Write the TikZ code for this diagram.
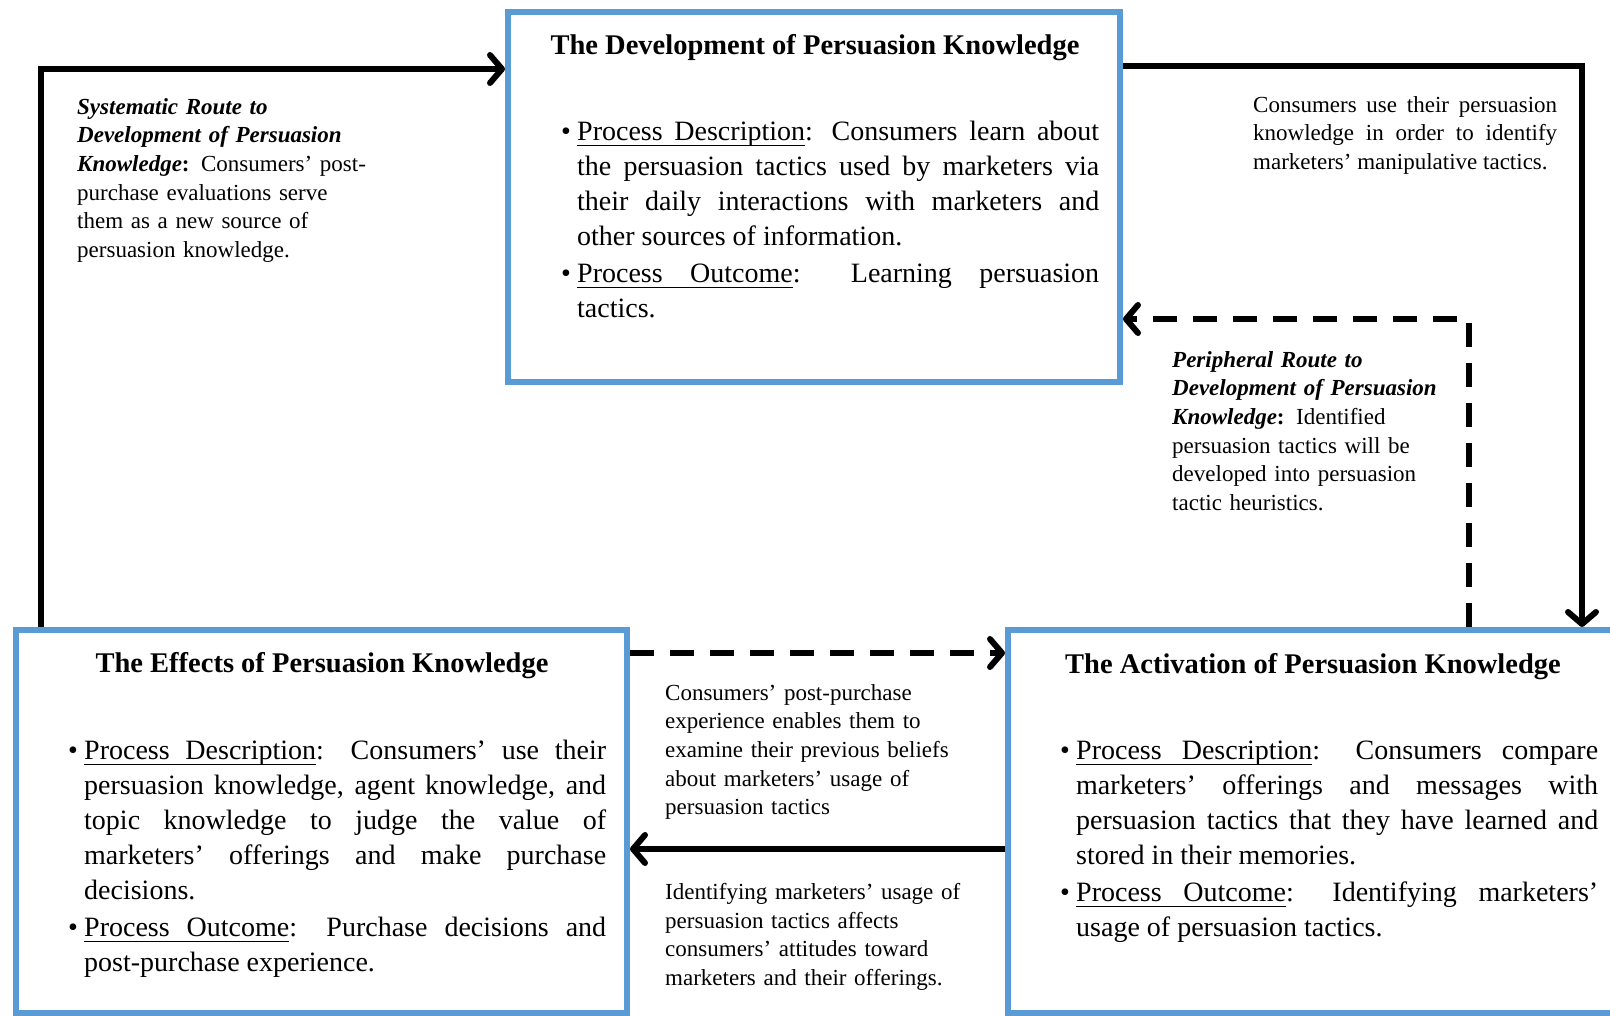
\documentclass[tikz,border=0pt]{standalone}
\usepackage{fontspec}
\setmainfont{Liberation Serif}
\usetikzlibrary{arrows.meta}

\tolerance=10000
\hyphenpenalty=10000
\newcommand{\pkitem}[1]{\par\leftskip=16pt\relax
  \noindent\llap{\makebox[16pt][l]{\textbullet}}#1\par}
\newcommand{\pkroute}[1]{\textbf{\textit{#1}}}
% underlined words, with a stretchable underlined space between them
\newcommand{\pkul}[1]{\leavevmode\setbox0\hbox{#1}\rlap{\rule[-5.6pt]{\wd0}{1.3pt}}\box0}
\newcommand{\pkulgap}{\leaders\hrule height -4.3pt depth 5.6pt
  \hskip\fontdimen2\font plus\fontdimen3\font minus\fontdimen4\font}
\newcommand{\pkhead}[1]{\pkul{Process}\pkulgap\pkul{#1}}

\begin{document}
\begin{tikzpicture}[x=1pt,y=-1pt,
  pkbox/.style={draw=BLUE, line width=6pt, rectangle, inner sep=0pt},
  pktitle/.style={anchor=base, inner sep=0pt, font=\fontsize{28.5}{35}\selectfont\bfseries},
  pkbody/.style={anchor=north west, inner sep=0pt, text width=538pt, align=justify,
    font=\fontsize{28}{35}\selectfont},
  note/.style={anchor=north west, inner sep=0pt, text width=340pt, align=left,
    font=\fontsize{23}{28.7}\selectfont},
  flow/.style={BLACK, line width=6pt, line join=miter,
    -{Straight Barb[length=12pt, width=28pt, round]}},
  flowdash/.style={flow, dash pattern=on 24pt off 16pt}]

\useasboundingbox (0,0) rectangle (1610,1016);
\definecolor{BLACK}{RGB}{0,0,0}
\definecolor{BLUE}{RGB}{91,155,213}

% the three stages
\node[pkbox, minimum width=612pt, minimum height=370pt] (dev) at (814,197) {};
\node[pkbox, minimum width=611pt, minimum height=383pt] (eff) at (321.5,821.5) {};
\node[pkbox, minimum width=617pt, minimum height=383pt] (act) at (1316.5,821.5) {};

\node[pktitle] (devtitle) at (815,55) {The Development of Persuasion Knowledge};
\node[pktitle] (efftitle) at (322,672) {The Effects of Persuasion Knowledge};
\node[pktitle] (acttitle) at (1313,673) {The Activation of Persuasion Knowledge};

\node[pkbody] (devtext) at (561,105.5) {%
  \pkitem{\pkhead{Description}: Consumers learn about\linebreak
  the persuasion tactics used by marketers via\linebreak
  their daily interactions with marketers and\linebreak
  other sources of information.}\vspace{2pt}
  \pkitem{\pkhead{Outcome}: Learning persuasion\linebreak
  tactics.}};
\node[pkbody] (efftext) at (68,724.5) {%
  \pkitem{\pkhead{Description}: Consumers' use their\linebreak
  persuasion knowledge, agent knowledge, and\linebreak
  topic knowledge to judge the value of\linebreak
  marketers' offerings and make purchase\linebreak
  decisions.}\vspace{2pt}
  \pkitem{\pkhead{Outcome}: Purchase decisions and\linebreak
  post-purchase experience.}};
\node[pkbody] (acttext) at (1060,724.5) {%
  \pkitem{\pkhead{Description}: Consumers compare\linebreak
  marketers' offerings and messages with\linebreak
  persuasion tactics that they have learned and\linebreak
  stored in their memories.}\vspace{2pt}
  \pkitem{\pkhead{Outcome}: Identifying marketers'\linebreak
  usage of persuasion tactics.}};

% routes between them
\node[note] (sysnote) at (77,98) {%
  \pkroute{Systematic Route to}\\
  \pkroute{Development of Persuasion}\\
  \pkroute{Knowledge}\textbf{:} Consumers' post-\\
  purchase evaluations serve\\
  them as a new source of\\
  persuasion knowledge.};
\node[note, text width=304pt, align=justify] (cuenote) at (1253,96) {%
  Consumers use their persuasion\linebreak
  knowledge in order to identify\linebreak
  marketers' manipulative tactics.};
\node[note] (pernote) at (1172,351) {%
  \pkroute{Peripheral Route to}\\
  \pkroute{Development of Persuasion}\\
  \pkroute{Knowledge}\textbf{:} Identified\\
  persuasion tactics will be\\
  developed into persuasion\\
  tactic heuristics.};
\node[note] (expnote) at (665,684) {%
  Consumers' post-purchase\\
  experience enables them to\\
  examine their previous beliefs\\
  about marketers' usage of\\
  persuasion tactics};
\node[note] (attnote) at (665,883) {%
  Identifying marketers' usage of\\
  persuasion tactics affects\\
  consumers' attitudes toward\\
  marketers and their offerings.};

\coordinate (sysbend) at (41,69);
\coordinate (cuebend) at (1582,66);
\coordinate (perbend) at (1469,319);
\coordinate (expline) at (0,653);
\coordinate (attline) at (0,849);

\draw[flow] (eff.north -| sysbend) |- (dev.west |- sysbend);
\draw[flow] (dev.east |- cuebend) -| (act.north -| cuebend);
\draw[flowdash] (act.north -| perbend) |- (dev.east |- perbend);
\draw[flowdash] (eff.east |- expline) -- (act.west |- expline);
\draw[flow] (act.west |- attline) -- (eff.east |- attline);
\end{tikzpicture}
\end{document}
